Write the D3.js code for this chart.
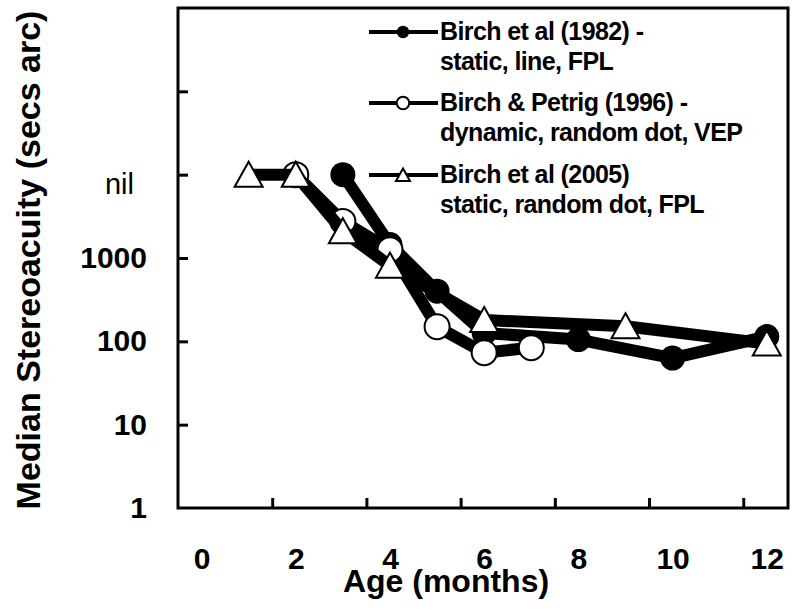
<!DOCTYPE html>
<html>
<head>
    <meta charset="utf-8">
    <title>Median Stereoacuity by Age</title>
    <script src="https://d3js.org/d3.v7.min.js"></script>
    <style>
        body {
            margin: 0;
            background: #fff;
            font-family: "Liberation Sans", Arial, sans-serif;
        }
    </style>
</head>
<body>
    <div id="chart"></div>

    <script>
        // values (secs arc, "nil" plotted at 10000)
        var months1982 = [3, 4, 5, 6, 8, 10, 12];
        var acuity1982 = [10000, 1450, 400, 126, 105, 63, 114];
        var months1996 = [2, 3, 4, 5, 6, 7];
        var acuity1996 = [10000, 2750, 1260, 150, 73, 84];
        var months2005 = [1, 2, 3, 4, 6, 9, 12];
        var acuity2005 = [10000, 10000, 2100, 810, 180, 152, 94];

        var yLabelValues = [1, 10, 100, 1000, 10000];
        var yLabelText = ["1", "10", "100", "1000", "nil"];
        var yTickValues = [10, 100, 1000, 10000, 100000];
        var xLabelValues = [0, 2, 4, 6, 8, 10, 12];
        var xTickValues = [1.5, 3.5, 5.5, 7.5, 9.5, 11.5];

        var legendLabels = [
            ["Birch et al (1982) -", "static, line, FPL"],
            ["Birch & Petrig (1996) -", "dynamic, random dot, VEP"],
            ["Birch et al (2005)", "static, random dot, FPL"]
        ];

        var width = 800, height = 611;
        var plotLeft = 178, plotRight = 788, plotTop = 8, plotBottom = 508;

        var x = d3.scaleLinear().domain([-0.5, 12.45]).range([plotLeft, plotRight]);
        var y = d3.scaleLog().domain([1, 1000000]).range([plotBottom, plotTop]);

        var svg = d3.select("#chart")
            .append("svg")
            .attr("width", width)
            .attr("height", height);

        // tick marks point inward
        svg.append("g")
            .attr("transform", "translate(" + plotLeft + ",0)")
            .call(d3.axisLeft(y).tickValues(yTickValues).tickFormat("").tickSizeInner(-10).tickSizeOuter(0))
            .call(function(g) { g.select(".domain").remove(); })
            .selectAll("line").attr("stroke", "#000").attr("stroke-width", 3);

        svg.append("g")
            .attr("transform", "translate(0," + plotBottom + ")")
            .call(d3.axisBottom(x).tickValues(xTickValues).tickFormat("").tickSizeInner(-10).tickSizeOuter(0))
            .call(function(g) { g.select(".domain").remove(); })
            .selectAll("line").attr("stroke", "#000").attr("stroke-width", 3);

        // tick labels
        var yLab = svg.append("g")
            .attr("transform", "translate(" + plotLeft + ",0)")
            .call(d3.axisLeft(y).tickValues(yLabelValues)
                .tickFormat(function(d, i) { return yLabelText[i]; })
                .tickSize(0).tickPadding(31))
            .call(function(g) { g.select(".domain").remove(); });
        yLab.selectAll("text")
            .attr("fill", "#000")
            .style("font-family", "'Liberation Sans', Arial, sans-serif")
            .style("font-size", "30px")
            .style("font-weight", "bold");
        yLab.selectAll(".tick").filter(function(d) { return d === 10000; })
            .select("text")
            .attr("x", -44)
            .attr("dy", "0.65em")
            .style("font-weight", "normal")
            .style("font-size", "29px");

        var xLab = svg.append("g")
            .attr("transform", "translate(0," + plotBottom + ")")
            .call(d3.axisBottom(x).tickValues(xLabelValues).tickSize(0).tickPadding(40))
            .call(function(g) { g.select(".domain").remove(); });
        xLab.selectAll("text")
            .attr("fill", "#000")
            .style("font-family", "'Liberation Sans', Arial, sans-serif")
            .style("font-size", "30px")
            .style("font-weight", "bold");

        // plot frame
        svg.append("rect")
            .attr("x", plotLeft).attr("y", plotTop)
            .attr("width", plotRight - plotLeft).attr("height", plotBottom - plotTop)
            .attr("fill", "none")
            .attr("stroke", "#000")
            .attr("stroke-width", 3);

        // axis titles
        svg.append("text")
            .attr("x", 446).attr("y", 592)
            .attr("text-anchor", "middle")
            .style("font-size", "32px")
            .style("font-weight", "bold")
            .text("Age (months)");

        svg.append("text")
            .attr("transform", "translate(40,260) rotate(-90)")
            .attr("text-anchor", "middle")
            .style("font-size", "34px")
            .style("font-weight", "bold")
            .text("Median Stereoacuity (secs arc)");

        var line = d3.line()
            .x(function(d) { return x(d[0]); })
            .y(function(d) { return y(d[1]); });

        var series = [
            { m: months1982, v: acuity1982, marker: "filled" },
            { m: months1996, v: acuity1996, marker: "open" },
            { m: months2005, v: acuity2005, marker: "triangle" }
        ];

        function triPath(s) {
            return "M0," + (-13 * s) + "L" + (14 * s) + "," + (12 * s) + "L" + (-14 * s) + "," + (12 * s) + "Z";
        }

        function drawMarker(g, type, s) {
            if (type === "filled") {
                g.append("circle").attr("r", 12.5 * s).attr("fill", "#000");
            } else if (type === "open") {
                g.append("circle").attr("r", 12.5 * s).attr("fill", "#fff")
                    .attr("stroke", "#000").attr("stroke-width", 2);
            } else {
                g.append("path").attr("d", triPath(s)).attr("fill", "#fff")
                    .attr("stroke", "#000").attr("stroke-width", 2).attr("stroke-linejoin", "miter");
            }
        }

        series.forEach(function(s) {
            var pts = s.m.map(function(m, i) { return [m, s.v[i]]; });
            var g = svg.append("g");
            g.append("path")
                .datum(pts)
                .attr("d", line)
                .attr("fill", "none")
                .attr("stroke", "#000")
                .attr("stroke-width", 12)
                .attr("stroke-linejoin", "round");
            g.selectAll("g.pt")
                .data(pts)
                .enter()
                .append("g")
                .attr("class", "pt")
                .attr("transform", function(d) { return "translate(" + x(d[0]) + "," + y(d[1]) + ")"; })
                .each(function() { drawMarker(d3.select(this), s.marker, 1); });
        });

        // legend
        var legendY = [32, 103, 175];
        var legend = svg.append("g");
        series.forEach(function(s, i) {
            var row = legend.append("g").attr("transform", "translate(0," + legendY[i] + ")");
            row.append("line")
                .attr("x1", 369).attr("x2", 438)
                .attr("y1", 0).attr("y2", 0)
                .attr("stroke", "#000").attr("stroke-width", 4);
            var mk = row.append("g").attr("transform", "translate(403,0)");
            drawMarker(mk, s.marker, 0.5);
            row.selectAll("text")
                .data(legendLabels[i])
                .enter()
                .append("text")
                .attr("x", 440)
                .attr("y", function(d, j) { return 8 + j * 30; })
                .style("font-size", "25px")
                .style("font-weight", "bold")
                .style("letter-spacing", "-0.6px")
                .text(function(d) { return d; });
        });
    </script>
</body>
</html>
